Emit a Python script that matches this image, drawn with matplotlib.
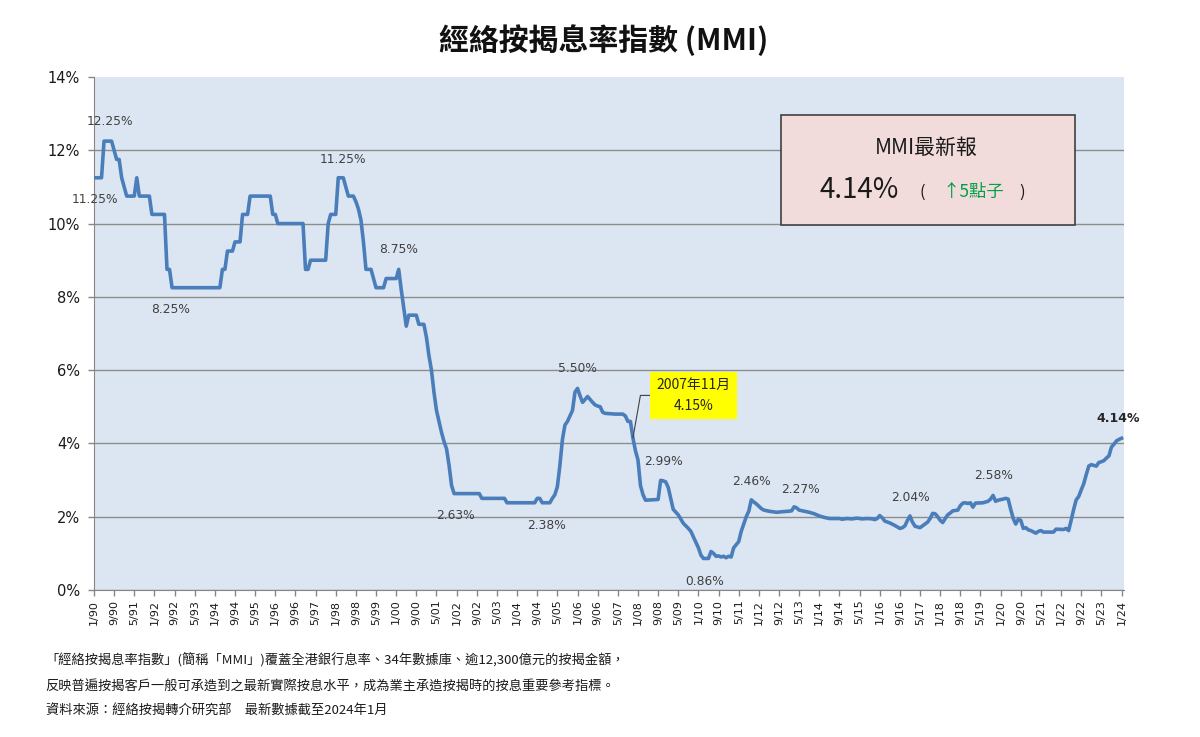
import numpy as np
import matplotlib.pyplot as plt
from matplotlib.patches import Rectangle

plt.rcParams['font.family'] = ['DejaVu Sans', 'Noto Sans CJK TC']
CJK = ['Noto Sans CJK TC', 'DejaVu Sans']

# MMI 讀數: (距 1990年1月 的月數, 息率 %)
mmi_1990s = [(0, 11.25), (3, 11.25), (4, 12.25), (7, 12.25), (9, 11.75), (10, 11.75),
             (11, 11.25), (13, 10.75), (16, 10.75), (17, 11.25), (18, 10.75), (22, 10.75),
             (23, 10.25), (28, 10.25), (29, 8.75), (30, 8.75), (31, 8.25), (50, 8.25),
             (51, 8.75), (52, 8.75), (53, 9.25), (55, 9.25), (56, 9.5), (58, 9.5),
             (59, 10.25), (61, 10.25), (62, 10.75), (70, 10.75), (71, 10.25), (72, 10.25),
             (73, 10.0), (83, 10.0), (84, 8.75), (85, 8.75), (86, 9.0), (92, 9.0),
             (93, 10.0), (94, 10.25), (96, 10.25), (97, 11.25), (99, 11.25), (100, 11.0),
             (101, 10.75), (103, 10.75), (104, 10.6), (105, 10.4), (106, 10.1), (107, 9.5),
             (108, 8.75), (110, 8.75), (111, 8.5), (112, 8.25), (115, 8.25), (116, 8.5),
             (120, 8.5), (121, 8.75), (122, 8.2), (123, 7.7), (124, 7.2), (125, 7.5),
             (128, 7.5), (129, 7.25), (131, 7.25)]

mmi_2000s = [(132, 6.9), (133, 6.4), (134, 6.0), (135, 5.4), (136, 4.9), (137, 4.6),
             (138, 4.3), (139, 4.05), (140, 3.85), (141, 3.4), (142, 2.85), (143, 2.63),
             (153, 2.63), (154, 2.5), (163, 2.5), (164, 2.38), (175, 2.38), (176, 2.5),
             (177, 2.5), (178, 2.38), (181, 2.38), (182, 2.5), (183, 2.6), (184, 2.82),
             (185, 3.4), (186, 4.1), (187, 4.5), (188, 4.6), (189, 4.75), (190, 4.9),
             (191, 5.4), (192, 5.5), (193, 5.3), (194, 5.12), (195, 5.2), (196, 5.28),
             (197, 5.2), (198, 5.12), (199, 5.05), (200, 5.02), (201, 5.0), (202, 4.85),
             (203, 4.82), (207, 4.8), (210, 4.8), (211, 4.75), (212, 4.6), (213, 4.6),
             (214, 4.15), (215, 3.8), (216, 3.55), (217, 2.85), (218, 2.6), (219, 2.45),
             (224, 2.47), (225, 2.99), (226, 2.98), (227, 2.95), (228, 2.8), (229, 2.5),
             (230, 2.2), (232, 2.05), (234, 1.82), (236, 1.68), (237, 1.6), (238, 1.45),
             (239, 1.3), (240, 1.15), (241, 0.95), (242, 0.86), (244, 0.86), (245, 1.05),
             (246, 1.0), (247, 0.92), (248, 0.93), (249, 0.9), (250, 0.92), (251, 0.88),
             (252, 0.92), (253, 0.9), (254, 1.15), (256, 1.32), (257, 1.6), (258, 1.8),
             (259, 2.0), (260, 2.15), (261, 2.46), (262, 2.4), (263, 2.35), (265, 2.22),
             (266, 2.18), (268, 2.15), (271, 2.12), (274, 2.14), (276, 2.15), (277, 2.16),
             (278, 2.27), (279, 2.24), (280, 2.18), (282, 2.15), (284, 2.12), (286, 2.08),
             (288, 2.02), (290, 1.98), (292, 1.95), (296, 1.95), (297, 1.93), (299, 1.95),
             (301, 1.94), (303, 1.96), (305, 1.94), (307, 1.95), (309, 1.94), (310, 1.92),
             (311, 1.95), (312, 2.03), (313, 1.97), (314, 1.88), (316, 1.83), (318, 1.76),
             (320, 1.68), (321, 1.7), (322, 1.75), (323, 1.9), (324, 2.02), (325, 1.85),
             (326, 1.74), (328, 1.7), (329, 1.75), (330, 1.8), (331, 1.85), (332, 1.95),
             (333, 2.09), (334, 2.08), (335, 2.0), (336, 1.9), (337, 1.84), (338, 1.95),
             (339, 2.05), (340, 2.1), (341, 2.16), (343, 2.18), (344, 2.3), (345, 2.37),
             (346, 2.38), (347, 2.36), (348, 2.38), (349, 2.26), (350, 2.37), (353, 2.38),
             (354, 2.4), (355, 2.42), (356, 2.48), (357, 2.58), (358, 2.42), (359, 2.45)]

mmi_2020s = [(361, 2.48), (362, 2.5), (363, 2.48), (364, 2.2), (365, 1.95), (366, 1.8),
             (367, 1.93), (368, 1.9), (369, 1.68), (370, 1.7), (371, 1.64), (372, 1.62),
             (374, 1.55), (375, 1.6), (376, 1.62), (377, 1.58), (381, 1.58), (382, 1.66),
             (385, 1.65), (386, 1.68), (387, 1.62), (388, 1.9), (389, 2.2), (390, 2.46),
             (391, 2.55), (392, 2.73), (393, 2.9), (394, 3.15), (395, 3.38), (396, 3.42),
             (398, 3.38), (399, 3.48), (400, 3.5), (401, 3.53), (402, 3.6), (403, 3.66),
             (404, 3.9), (405, 3.98), (406, 4.07), (407, 4.11), (408, 4.14)]

# 數據標籤: (月數, 文字, x 偏移pt, y 偏移pt)
peak_labels = [(5, '12.25%', 2.5, 14), (0, '11.25%', 0.7, -16), (31, '8.25%', -0.7, -16),
               (98, '11.25%', 1.3, 13.3), (121, '8.75%', 0, 14), (148, '2.63%', -8.3, -16),
               (178, '2.38%', 3, -16.7), (192, '5.50%', 0, 14.5), (225, '2.99%', 2.3, 13.5),
               (243, '0.86%', -1.3, -16.7), (261, '2.46%', 0, 13.1), (278, '2.27%', 4.3, 12.6),
               (324, '2.04%', 0.7, 13.5), (357, '2.58%', 0, 14)]
callout_month = 214  # 2007年11月
latest_month = 408

footnotes = ['「經絡按揭息率指數」(簡稱「MMI」)覆蓋全港銀行息率、34年數據庫、逾12,300億元的按揭金額，',
             '反映普遍按揭客戶一般可承造到之最新實際按息水平，成為業主承造按揭時的按息重要參考指標。',
             '資料來源：經絡按揭轉介研究部　最新數據截至2024年1月']

pts = mmi_1990s + mmi_2000s + mmi_2020s
x = np.array([p[0] for p in pts])
y = np.array([p[1] for p in pts])

fig = plt.figure(figsize=(12, 7.37), dpi=100)
ax = fig.add_axes([0.0783, 0.1995, 0.8584, 0.696])
ax.set_facecolor('#DCE6F2')

ax.plot(x, y, color='#4A7EBB', lw=2.6, solid_joinstyle='round', zorder=3)

ax.set_xlim(0, 409)
ax.set_ylim(0, 14)
ax.set_yticks(range(0, 15, 2))
ax.set_yticklabels([f'{v}%' for v in range(0, 15, 2)], fontsize=10.5)
tick_m = list(range(0, 409, 8))
ax.set_xticks(tick_m)
ax.set_xticklabels([f'{m % 12 + 1}/{(1990 + m // 12) % 100:02d}' for m in tick_m],
                   rotation=90, fontsize=8)
ax.tick_params(axis='both', colors='#868686', labelcolor='#1a1a1a', length=4, width=1)
ax.tick_params(axis='y', pad=6)
ax.tick_params(axis='x', pad=3)
ax.yaxis.grid(True, color='#8C8C8C', lw=1)
ax.yaxis.get_gridlines()[-1].set_visible(False)
ax.set_axisbelow(True)
for s in ['top', 'right']:
    ax.spines[s].set_visible(False)
for s in ['left', 'bottom']:
    ax.spines[s].set_color('#868686')

for m, txt, dx, dy in peak_labels:
    v = np.interp(m, x, y)
    ax.annotate(txt, (m, v), xytext=(dx, dy), textcoords='offset points',
                ha='center', va='center', fontsize=8.8, color='#404040', zorder=4)

ax.annotate(f'{np.interp(latest_month, x, y):.2f}%', (latest_month, np.interp(latest_month, x, y)),
            xytext=(-2.2, 14.4), textcoords='offset points', ha='center', va='center',
            fontsize=9, fontweight='bold', color='#262626', annotation_clip=False)

cv = np.interp(callout_month, x, y)
ax.annotate(f'2007年11月\n{cv:.2f}%', (callout_month, cv), xytext=(43.5, 30.6),
            textcoords='offset points', ha='center', va='center', fontsize=10,
            family=CJK, color='#262626', linespacing=1.6,
            bbox=dict(boxstyle='square,pad=0.45', fc='#FFFF00', ec='none'),
            arrowprops=dict(arrowstyle='-', color='#404040', lw=0.8, shrinkA=0, shrinkB=0,
                            connectionstyle='angle,angleA=0,angleB=80,rad=0'), zorder=5)

fig.text(0.503, 0.9457, '經絡按揭息率指數 (MMI)', ha='center', va='center',
         fontsize=21.5, fontweight='bold', family=CJK, color='#111111')

fig.add_artist(Rectangle((0.6508, 0.6947), 0.245, 0.1493, transform=fig.transFigure,
                         fc='#F2DCDB', ec='#404040', lw=1.2, zorder=5))
fig.text(0.7715, 0.7988, 'MMI最新報', ha='center', va='center', fontsize=15,
         family=CJK, color='#1a1a1a', zorder=6)
fig.text(0.7158, 0.7422, f'{y[-1]:.2f}%', ha='center', va='center', fontsize=20,
         family=CJK, color='#1a1a1a', zorder=6)
fig.text(0.7683, 0.7395, '(', ha='center', va='center', fontsize=12,
         family=CJK, color='#1a1a1a', zorder=6)
fig.text(0.8112, 0.7395, '↑5點子', ha='center', va='center', fontsize=12.5,
         family=CJK, color='#00A04A', zorder=6)
fig.text(0.8517, 0.7395, ')', ha='center', va='center', fontsize=12,
         family=CJK, color='#1a1a1a', zorder=6)

for i, (line, yy) in enumerate(zip(footnotes, [659, 687, 711])):
    fig.text(0.038, (737 - yy) / 737, line, ha='left', va='center', fontsize=9.5,
             family=CJK, color='#1a1a1a')

fig.savefig('out.png', dpi=100)
